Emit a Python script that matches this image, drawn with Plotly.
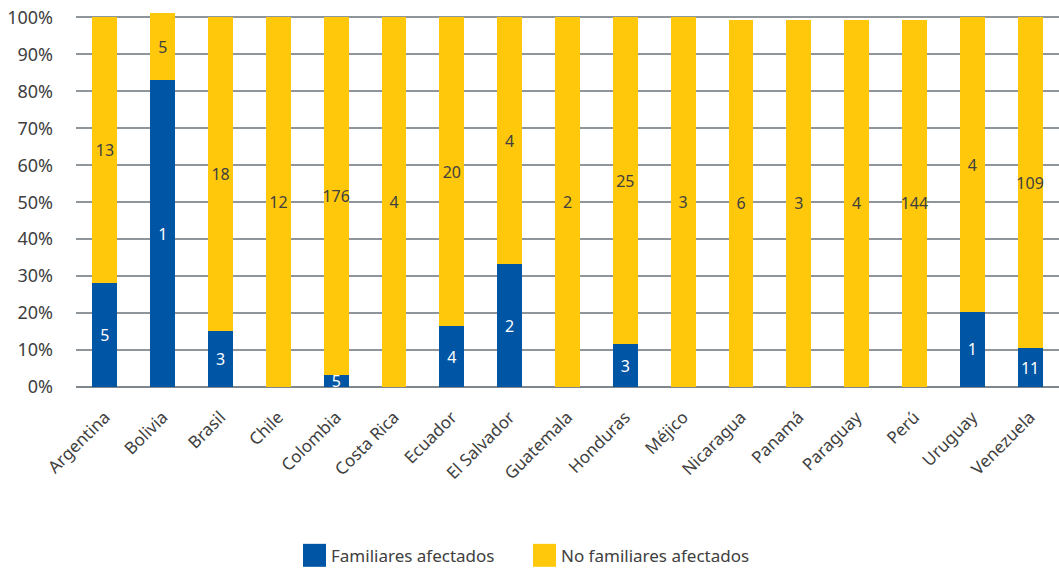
import plotly.graph_objects as go

paises = ["Argentina", "Bolivia", "Brasil", "Chile", "Colombia", "Costa Rica", "Ecuador",
          "El Salvador", "Guatemala", "Honduras", "Méjico", "Nicaragua", "Panamá",
          "Paraguay", "Perú", "Uruguay", "Venezuela"]

# percentage heights
pct_afectados = [28.2, 83.0, 15.1, 0, 3.3, 0, 16.5, 33.2, 0, 11.6, 0, 0, 0, 0, 0, 20.3, 10.5]
pct_no_afectados = [71.8, 18.1, 84.9, 100, 96.7, 100, 83.5, 66.8, 100, 88.4, 100, 99.4, 99.4, 99.4, 99.4, 79.7, 89.5]

# count labels shown on the bars
n_afectados = ["5", "1", "3", "", "5", "", "4", "2", "", "3", "", "", "", "", "", "1", "11"]
n_no_afectados = ["13", "5", "18", "12", "176", "4", "20", "4", "2", "25", "3", "6", "3", "4", "144", "4", "109"]

series = ["Familiares afectados", "No familiares afectados"]

BLUE = "#0055A5"
YELLOW = "#FFC80B"
FONT = "Noto Sans"
TXT = "#404040"

fig = go.Figure()
fig.add_trace(go.Bar(
    x=paises, y=pct_afectados, name=series[0],
    marker=dict(color=BLUE, line=dict(width=0)),
    text=n_afectados, textposition="inside", insidetextanchor="middle", textangle=0,
    textfont=dict(color="white", size=16, family=FONT),
    constraintext="none", cliponaxis=False, showlegend=False,
))
fig.add_trace(go.Bar(
    x=paises, y=pct_no_afectados, name=series[1],
    marker=dict(color=YELLOW, line=dict(width=0)),
    text=n_no_afectados, textposition="inside", insidetextanchor="middle", textangle=0,
    textfont=dict(color=TXT, size=16, family=FONT),
    constraintext="none", cliponaxis=False, showlegend=False,
))

# manual legend (large square swatches as in the reference)
PLOT_H = 569 - 182 - 9.6

def px_x(p):
    return (p - 76) / 983.0

def px_y(p):
    return (387 - p) / PLOT_H

legend_items = [(series[0], BLUE, 303), (series[1], YELLOW, 533)]
for name, col, left in legend_items:
    fig.add_shape(type="rect", xref="paper", yref="paper",
                  x0=px_x(left), x1=px_x(left + 23), y0=px_y(567), y1=px_y(544),
                  fillcolor=col, line=dict(width=0))
    fig.add_annotation(xref="paper", yref="paper", x=px_x(left + 26), y=px_y(555.5),
                       xanchor="left", yanchor="middle", showarrow=False, text=name,
                       font=dict(size=17, color=TXT, family=FONT))

fig.update_layout(
    barmode="stack",
    bargap=0.57,
    width=1059, height=569,
    margin=dict(l=76, r=0, t=9.6, b=182),
    plot_bgcolor="white", paper_bgcolor="white",
    font=dict(family=FONT, color=TXT, size=16),
    uniformtext=dict(minsize=16, mode="show"),
    showlegend=False,
    xaxis=dict(
        tickangle=-45, tickfont=dict(size=17, color=TXT),
        showgrid=False, showline=False, ticks="", ticklabelstandoff=16,
    ),
    yaxis=dict(
        range=[0, 102], tickvals=list(range(0, 101, 10)),
        ticktext=[f"{v}%" for v in range(0, 101, 10)],
        tickfont=dict(size=18, color=TXT),
        showgrid=True, gridcolor="#8E959B", gridwidth=1.5,
        zeroline=True, zerolinecolor="#7F878D", zerolinewidth=2,
        showline=False, ticks="", ticklabelstandoff=22,
    ),
)

fig.write_html("out.html")
